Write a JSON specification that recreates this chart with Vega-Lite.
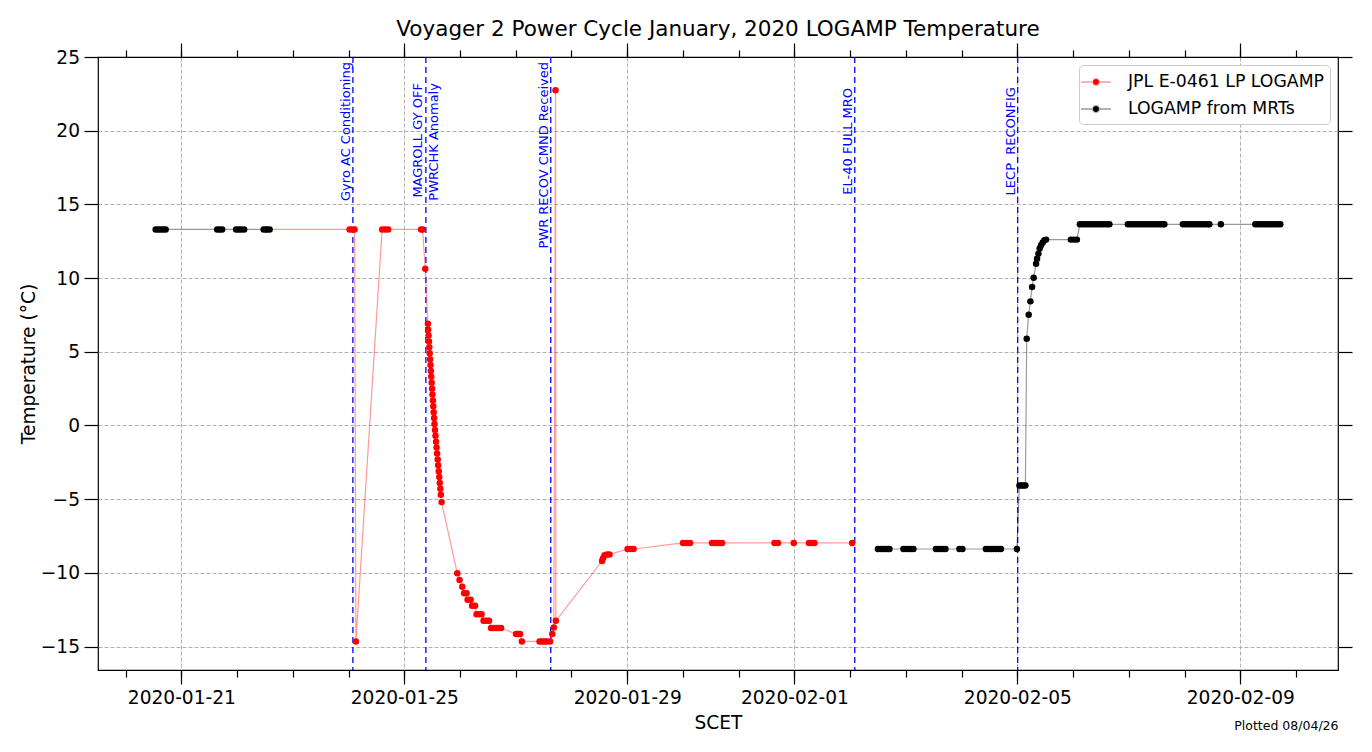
{
  "$schema": "https://vega.github.io/schema/vega-lite/v6.json",
  "autosize": {"type": "none"},
  "width": 1240,
  "height": 613,
  "padding": {"left": 98, "top": 57, "right": 34, "bottom": 82},
  "background": "white",
  "title": {
    "text": "Voyager 2 Power Cycle January, 2020 LOGAMP Temperature",
    "font": "DejaVu Sans",
    "fontSize": 21.5,
    "fontWeight": "normal",
    "color": "black",
    "anchor": "middle",
    "frame": "group",
    "baseline": "alphabetic",
    "offset": -15
  },
  "config": {
    "font": "DejaVu Sans",
    "view": {"stroke": "black", "strokeWidth": 1.2},
    "axis": {
      "domain": false,
      "labelFont": "DejaVu Sans",
      "titleFont": "DejaVu Sans",
      "labelColor": "black",
      "titleColor": "black",
      "tickColor": "black",
      "tickWidth": 1.2,
      "titleFontWeight": "normal",
      "gridColor": "#b0b0b0",
      "gridDash": [4, 2],
      "gridWidth": 1
    }
  },
  "datasets": {
    "temps": [
      {"t": "2020-01-22T12:30", "v": 13.3, "series": "JPL E-0461 LP LOGAMP", "seg": "r"},
      {"t": "2020-01-24T00:27", "v": 13.3, "series": "JPL E-0461 LP LOGAMP", "seg": "r"},
      {"t": "2020-01-24T01:32", "v": 13.3, "series": "JPL E-0461 LP LOGAMP", "seg": "r"},
      {"t": "2020-01-24T02:36", "v": 13.3, "series": "JPL E-0461 LP LOGAMP", "seg": "r"},
      {"t": "2020-01-24T03:10", "v": -14.65, "series": "JPL E-0461 LP LOGAMP", "seg": "r"},
      {"t": "2020-01-24T14:27", "v": 13.3, "series": "JPL E-0461 LP LOGAMP", "seg": "r"},
      {"t": "2020-01-24T15:44", "v": 13.3, "series": "JPL E-0461 LP LOGAMP", "seg": "r"},
      {"t": "2020-01-24T17:02", "v": 13.3, "series": "JPL E-0461 LP LOGAMP", "seg": "r"},
      {"t": "2020-01-25T07:14", "v": 13.3, "series": "JPL E-0461 LP LOGAMP", "seg": "r"},
      {"t": "2020-01-25T07:53", "v": 13.3, "series": "JPL E-0461 LP LOGAMP", "seg": "r"},
      {"t": "2020-01-25T09:02", "v": 10.64, "series": "JPL E-0461 LP LOGAMP", "seg": "r"},
      {"t": "2020-01-25T10:10", "v": 6.9, "series": "JPL E-0461 LP LOGAMP", "seg": "r"},
      {"t": "2020-01-25T10:17", "v": 6.5, "series": "JPL E-0461 LP LOGAMP", "seg": "r"},
      {"t": "2020-01-25T10:28", "v": 6.1, "series": "JPL E-0461 LP LOGAMP", "seg": "r"},
      {"t": "2020-01-25T10:38", "v": 5.7, "series": "JPL E-0461 LP LOGAMP", "seg": "r"},
      {"t": "2020-01-25T10:46", "v": 5.3, "series": "JPL E-0461 LP LOGAMP", "seg": "r"},
      {"t": "2020-01-25T10:56", "v": 4.9, "series": "JPL E-0461 LP LOGAMP", "seg": "r"},
      {"t": "2020-01-25T11:06", "v": 4.5, "series": "JPL E-0461 LP LOGAMP", "seg": "r"},
      {"t": "2020-01-25T11:17", "v": 4.1, "series": "JPL E-0461 LP LOGAMP", "seg": "r"},
      {"t": "2020-01-25T11:27", "v": 3.7, "series": "JPL E-0461 LP LOGAMP", "seg": "r"},
      {"t": "2020-01-25T11:37", "v": 3.3, "series": "JPL E-0461 LP LOGAMP", "seg": "r"},
      {"t": "2020-01-25T11:48", "v": 2.9, "series": "JPL E-0461 LP LOGAMP", "seg": "r"},
      {"t": "2020-01-25T11:58", "v": 2.5, "series": "JPL E-0461 LP LOGAMP", "seg": "r"},
      {"t": "2020-01-25T12:08", "v": 2.1, "series": "JPL E-0461 LP LOGAMP", "seg": "r"},
      {"t": "2020-01-25T12:19", "v": 1.7, "series": "JPL E-0461 LP LOGAMP", "seg": "r"},
      {"t": "2020-01-25T12:29", "v": 1.3, "series": "JPL E-0461 LP LOGAMP", "seg": "r"},
      {"t": "2020-01-25T12:39", "v": 0.9, "series": "JPL E-0461 LP LOGAMP", "seg": "r"},
      {"t": "2020-01-25T12:50", "v": 0.5, "series": "JPL E-0461 LP LOGAMP", "seg": "r"},
      {"t": "2020-01-25T13:00", "v": 0.1, "series": "JPL E-0461 LP LOGAMP", "seg": "r"},
      {"t": "2020-01-25T13:13", "v": -0.3, "series": "JPL E-0461 LP LOGAMP", "seg": "r"},
      {"t": "2020-01-25T13:26", "v": -0.7, "series": "JPL E-0461 LP LOGAMP", "seg": "r"},
      {"t": "2020-01-25T13:41", "v": -1.1, "series": "JPL E-0461 LP LOGAMP", "seg": "r"},
      {"t": "2020-01-25T13:54", "v": -1.5, "series": "JPL E-0461 LP LOGAMP", "seg": "r"},
      {"t": "2020-01-25T14:07", "v": -1.9, "series": "JPL E-0461 LP LOGAMP", "seg": "r"},
      {"t": "2020-01-25T14:23", "v": -2.3, "series": "JPL E-0461 LP LOGAMP", "seg": "r"},
      {"t": "2020-01-25T14:36", "v": -2.7, "series": "JPL E-0461 LP LOGAMP", "seg": "r"},
      {"t": "2020-01-25T14:51", "v": -3.1, "series": "JPL E-0461 LP LOGAMP", "seg": "r"},
      {"t": "2020-01-25T15:04", "v": -3.5, "series": "JPL E-0461 LP LOGAMP", "seg": "r"},
      {"t": "2020-01-25T15:17", "v": -3.9, "series": "JPL E-0461 LP LOGAMP", "seg": "r"},
      {"t": "2020-01-25T15:32", "v": -4.3, "series": "JPL E-0461 LP LOGAMP", "seg": "r"},
      {"t": "2020-01-25T15:45", "v": -4.7, "series": "JPL E-0461 LP LOGAMP", "seg": "r"},
      {"t": "2020-01-25T16:03", "v": -5.2, "series": "JPL E-0461 LP LOGAMP", "seg": "r"},
      {"t": "2020-01-25T22:49", "v": -10.03, "series": "JPL E-0461 LP LOGAMP", "seg": "r"},
      {"t": "2020-01-25T23:48", "v": -10.48, "series": "JPL E-0461 LP LOGAMP", "seg": "r"},
      {"t": "2020-01-26T00:58", "v": -10.94, "series": "JPL E-0461 LP LOGAMP", "seg": "r"},
      {"t": "2020-01-26T01:45", "v": -11.39, "series": "JPL E-0461 LP LOGAMP", "seg": "r"},
      {"t": "2020-01-26T02:49", "v": -11.39, "series": "JPL E-0461 LP LOGAMP", "seg": "r"},
      {"t": "2020-01-26T03:15", "v": -11.82, "series": "JPL E-0461 LP LOGAMP", "seg": "r"},
      {"t": "2020-01-26T04:33", "v": -11.82, "series": "JPL E-0461 LP LOGAMP", "seg": "r"},
      {"t": "2020-01-26T05:11", "v": -12.23, "series": "JPL E-0461 LP LOGAMP", "seg": "r"},
      {"t": "2020-01-26T06:29", "v": -12.23, "series": "JPL E-0461 LP LOGAMP", "seg": "r"},
      {"t": "2020-01-26T07:07", "v": -12.8, "series": "JPL E-0461 LP LOGAMP", "seg": "r"},
      {"t": "2020-01-26T08:12", "v": -12.8, "series": "JPL E-0461 LP LOGAMP", "seg": "r"},
      {"t": "2020-01-26T09:17", "v": -12.8, "series": "JPL E-0461 LP LOGAMP", "seg": "r"},
      {"t": "2020-01-26T10:08", "v": -13.25, "series": "JPL E-0461 LP LOGAMP", "seg": "r"},
      {"t": "2020-01-26T11:13", "v": -13.25, "series": "JPL E-0461 LP LOGAMP", "seg": "r"},
      {"t": "2020-01-26T12:30", "v": -13.25, "series": "JPL E-0461 LP LOGAMP", "seg": "r"},
      {"t": "2020-01-26T13:22", "v": -13.74, "series": "JPL E-0461 LP LOGAMP", "seg": "r"},
      {"t": "2020-01-26T14:27", "v": -13.74, "series": "JPL E-0461 LP LOGAMP", "seg": "r"},
      {"t": "2020-01-26T15:31", "v": -13.74, "series": "JPL E-0461 LP LOGAMP", "seg": "r"},
      {"t": "2020-01-26T16:36", "v": -13.74, "series": "JPL E-0461 LP LOGAMP", "seg": "r"},
      {"t": "2020-01-26T17:40", "v": -13.74, "series": "JPL E-0461 LP LOGAMP", "seg": "r"},
      {"t": "2020-01-27T00:08", "v": -14.15, "series": "JPL E-0461 LP LOGAMP", "seg": "r"},
      {"t": "2020-01-27T00:59", "v": -14.15, "series": "JPL E-0461 LP LOGAMP", "seg": "r"},
      {"t": "2020-01-27T01:51", "v": -14.15, "series": "JPL E-0461 LP LOGAMP", "seg": "r"},
      {"t": "2020-01-27T02:38", "v": -14.65, "series": "JPL E-0461 LP LOGAMP", "seg": "r"},
      {"t": "2020-01-27T10:15", "v": -14.65, "series": "JPL E-0461 LP LOGAMP", "seg": "r"},
      {"t": "2020-01-27T11:19", "v": -14.65, "series": "JPL E-0461 LP LOGAMP", "seg": "r"},
      {"t": "2020-01-27T12:24", "v": -14.65, "series": "JPL E-0461 LP LOGAMP", "seg": "r"},
      {"t": "2020-01-27T13:28", "v": -14.65, "series": "JPL E-0461 LP LOGAMP", "seg": "r"},
      {"t": "2020-01-27T14:46", "v": -14.65, "series": "JPL E-0461 LP LOGAMP", "seg": "r"},
      {"t": "2020-01-27T15:43", "v": -14.15, "series": "JPL E-0461 LP LOGAMP", "seg": "r"},
      {"t": "2020-01-27T16:24", "v": -13.7, "series": "JPL E-0461 LP LOGAMP", "seg": "r"},
      {"t": "2020-01-27T17:08", "v": 22.74, "series": "JPL E-0461 LP LOGAMP", "seg": "r"},
      {"t": "2020-01-27T17:16", "v": -13.25, "series": "JPL E-0461 LP LOGAMP", "seg": "r"},
      {"t": "2020-01-28T13:09", "v": -9.2, "series": "JPL E-0461 LP LOGAMP", "seg": "r"},
      {"t": "2020-01-28T13:35", "v": -9.0, "series": "JPL E-0461 LP LOGAMP", "seg": "r"},
      {"t": "2020-01-28T14:14", "v": -8.8, "series": "JPL E-0461 LP LOGAMP", "seg": "r"},
      {"t": "2020-01-28T15:18", "v": -8.75, "series": "JPL E-0461 LP LOGAMP", "seg": "r"},
      {"t": "2020-01-28T16:23", "v": -8.75, "series": "JPL E-0461 LP LOGAMP", "seg": "r"},
      {"t": "2020-01-29T00:08", "v": -8.38, "series": "JPL E-0461 LP LOGAMP", "seg": "r"},
      {"t": "2020-01-29T01:25", "v": -8.38, "series": "JPL E-0461 LP LOGAMP", "seg": "r"},
      {"t": "2020-01-29T02:43", "v": -8.38, "series": "JPL E-0461 LP LOGAMP", "seg": "r"},
      {"t": "2020-01-30T00:01", "v": -7.97, "series": "JPL E-0461 LP LOGAMP", "seg": "r"},
      {"t": "2020-01-30T01:32", "v": -7.97, "series": "JPL E-0461 LP LOGAMP", "seg": "r"},
      {"t": "2020-01-30T03:02", "v": -7.97, "series": "JPL E-0461 LP LOGAMP", "seg": "r"},
      {"t": "2020-01-30T12:30", "v": -7.97, "series": "JPL E-0461 LP LOGAMP", "seg": "r"},
      {"t": "2020-01-30T13:35", "v": -7.97, "series": "JPL E-0461 LP LOGAMP", "seg": "r"},
      {"t": "2020-01-30T14:39", "v": -7.97, "series": "JPL E-0461 LP LOGAMP", "seg": "r"},
      {"t": "2020-01-30T15:44", "v": -7.97, "series": "JPL E-0461 LP LOGAMP", "seg": "r"},
      {"t": "2020-01-30T16:49", "v": -7.97, "series": "JPL E-0461 LP LOGAMP", "seg": "r"},
      {"t": "2020-01-31T15:25", "v": -7.97, "series": "JPL E-0461 LP LOGAMP", "seg": "r"},
      {"t": "2020-01-31T16:55", "v": -7.97, "series": "JPL E-0461 LP LOGAMP", "seg": "r"},
      {"t": "2020-01-31T23:43", "v": -7.97, "series": "JPL E-0461 LP LOGAMP", "seg": "r"},
      {"t": "2020-02-01T06:16", "v": -7.97, "series": "JPL E-0461 LP LOGAMP", "seg": "r"},
      {"t": "2020-02-01T07:33", "v": -7.97, "series": "JPL E-0461 LP LOGAMP", "seg": "r"},
      {"t": "2020-02-01T08:38", "v": -7.97, "series": "JPL E-0461 LP LOGAMP", "seg": "r"},
      {"t": "2020-02-02T00:52", "v": -7.97, "series": "JPL E-0461 LP LOGAMP", "seg": "r"},
      {"t": "2020-01-20T12:56", "v": 13.3, "series": "LOGAMP from MRTs", "seg": "a"},
      {"t": "2020-01-20T14:01", "v": 13.3, "series": "LOGAMP from MRTs", "seg": "a"},
      {"t": "2020-01-20T15:05", "v": 13.3, "series": "LOGAMP from MRTs", "seg": "a"},
      {"t": "2020-01-20T16:10", "v": 13.3, "series": "LOGAMP from MRTs", "seg": "a"},
      {"t": "2020-01-20T17:14", "v": 13.3, "series": "LOGAMP from MRTs", "seg": "a"},
      {"t": "2020-01-21T15:25", "v": 13.3, "series": "LOGAMP from MRTs", "seg": "a"},
      {"t": "2020-01-21T16:29", "v": 13.3, "series": "LOGAMP from MRTs", "seg": "a"},
      {"t": "2020-01-21T17:34", "v": 13.3, "series": "LOGAMP from MRTs", "seg": "a"},
      {"t": "2020-01-21T23:35", "v": 13.3, "series": "LOGAMP from MRTs", "seg": "a"},
      {"t": "2020-01-22T00:40", "v": 13.3, "series": "LOGAMP from MRTs", "seg": "a"},
      {"t": "2020-01-22T01:45", "v": 13.3, "series": "LOGAMP from MRTs", "seg": "a"},
      {"t": "2020-01-22T03:02", "v": 13.3, "series": "LOGAMP from MRTs", "seg": "a"},
      {"t": "2020-01-22T11:26", "v": 13.3, "series": "LOGAMP from MRTs", "seg": "a"},
      {"t": "2020-01-22T12:43", "v": 13.3, "series": "LOGAMP from MRTs", "seg": "a"},
      {"t": "2020-01-22T14:01", "v": 13.3, "series": "LOGAMP from MRTs", "seg": "a"},
      {"t": "2020-02-02T11:58", "v": -8.38, "series": "LOGAMP from MRTs", "seg": "b"},
      {"t": "2020-02-02T13:03", "v": -8.38, "series": "LOGAMP from MRTs", "seg": "b"},
      {"t": "2020-02-02T14:07", "v": -8.38, "series": "LOGAMP from MRTs", "seg": "b"},
      {"t": "2020-02-02T15:12", "v": -8.38, "series": "LOGAMP from MRTs", "seg": "b"},
      {"t": "2020-02-02T16:16", "v": -8.38, "series": "LOGAMP from MRTs", "seg": "b"},
      {"t": "2020-02-02T16:55", "v": -8.38, "series": "LOGAMP from MRTs", "seg": "b"},
      {"t": "2020-02-02T22:57", "v": -8.38, "series": "LOGAMP from MRTs", "seg": "b"},
      {"t": "2020-02-03T00:01", "v": -8.38, "series": "LOGAMP from MRTs", "seg": "b"},
      {"t": "2020-02-03T01:06", "v": -8.38, "series": "LOGAMP from MRTs", "seg": "b"},
      {"t": "2020-02-03T02:10", "v": -8.38, "series": "LOGAMP from MRTs", "seg": "b"},
      {"t": "2020-02-03T03:15", "v": -8.38, "series": "LOGAMP from MRTs", "seg": "b"},
      {"t": "2020-02-03T12:56", "v": -8.38, "series": "LOGAMP from MRTs", "seg": "b"},
      {"t": "2020-02-03T14:01", "v": -8.38, "series": "LOGAMP from MRTs", "seg": "b"},
      {"t": "2020-02-03T15:05", "v": -8.38, "series": "LOGAMP from MRTs", "seg": "b"},
      {"t": "2020-02-03T16:10", "v": -8.38, "series": "LOGAMP from MRTs", "seg": "b"},
      {"t": "2020-02-03T17:02", "v": -8.38, "series": "LOGAMP from MRTs", "seg": "b"},
      {"t": "2020-02-03T23:03", "v": -8.38, "series": "LOGAMP from MRTs", "seg": "b"},
      {"t": "2020-02-04T00:21", "v": -8.38, "series": "LOGAMP from MRTs", "seg": "b"},
      {"t": "2020-02-04T10:28", "v": -8.38, "series": "LOGAMP from MRTs", "seg": "b"},
      {"t": "2020-02-04T11:32", "v": -8.38, "series": "LOGAMP from MRTs", "seg": "b"},
      {"t": "2020-02-04T12:37", "v": -8.38, "series": "LOGAMP from MRTs", "seg": "b"},
      {"t": "2020-02-04T13:41", "v": -8.38, "series": "LOGAMP from MRTs", "seg": "b"},
      {"t": "2020-02-04T14:46", "v": -8.38, "series": "LOGAMP from MRTs", "seg": "b"},
      {"t": "2020-02-04T15:51", "v": -8.38, "series": "LOGAMP from MRTs", "seg": "b"},
      {"t": "2020-02-04T16:55", "v": -8.38, "series": "LOGAMP from MRTs", "seg": "b"},
      {"t": "2020-02-04T23:49", "v": -8.38, "series": "LOGAMP from MRTs", "seg": "b"},
      {"t": "2020-02-05T00:53", "v": -4.08, "series": "LOGAMP from MRTs", "seg": "b"},
      {"t": "2020-02-05T01:45", "v": -4.08, "series": "LOGAMP from MRTs", "seg": "b"},
      {"t": "2020-02-05T02:36", "v": -4.08, "series": "LOGAMP from MRTs", "seg": "b"},
      {"t": "2020-02-05T03:28", "v": -4.08, "series": "LOGAMP from MRTs", "seg": "b"},
      {"t": "2020-02-05T04:02", "v": 5.89, "series": "LOGAMP from MRTs", "seg": "b"},
      {"t": "2020-02-05T04:53", "v": 7.52, "series": "LOGAMP from MRTs", "seg": "b"},
      {"t": "2020-02-05T05:37", "v": 8.42, "series": "LOGAMP from MRTs", "seg": "b"},
      {"t": "2020-02-05T06:21", "v": 9.4, "series": "LOGAMP from MRTs", "seg": "b"},
      {"t": "2020-02-05T07:02", "v": 10.03, "series": "LOGAMP from MRTs", "seg": "b"},
      {"t": "2020-02-05T08:04", "v": 10.98, "series": "LOGAMP from MRTs", "seg": "b"},
      {"t": "2020-02-05T08:30", "v": 11.32, "series": "LOGAMP from MRTs", "seg": "b"},
      {"t": "2020-02-05T09:04", "v": 11.66, "series": "LOGAMP from MRTs", "seg": "b"},
      {"t": "2020-02-05T09:37", "v": 12.0, "series": "LOGAMP from MRTs", "seg": "b"},
      {"t": "2020-02-05T10:13", "v": 12.23, "series": "LOGAMP from MRTs", "seg": "b"},
      {"t": "2020-02-05T10:55", "v": 12.41, "series": "LOGAMP from MRTs", "seg": "b"},
      {"t": "2020-02-05T11:39", "v": 12.57, "series": "LOGAMP from MRTs", "seg": "b"},
      {"t": "2020-02-05T12:23", "v": 12.61, "series": "LOGAMP from MRTs", "seg": "b"},
      {"t": "2020-02-05T23:03", "v": 12.61, "series": "LOGAMP from MRTs", "seg": "b"},
      {"t": "2020-02-06T00:21", "v": 12.61, "series": "LOGAMP from MRTs", "seg": "b"},
      {"t": "2020-02-06T01:38", "v": 12.61, "series": "LOGAMP from MRTs", "seg": "b"},
      {"t": "2020-02-06T02:56", "v": 13.65, "series": "LOGAMP from MRTs", "seg": "b"},
      {"t": "2020-02-06T04:00", "v": 13.65, "series": "LOGAMP from MRTs", "seg": "b"},
      {"t": "2020-02-06T05:05", "v": 13.65, "series": "LOGAMP from MRTs", "seg": "b"},
      {"t": "2020-02-06T06:09", "v": 13.65, "series": "LOGAMP from MRTs", "seg": "b"},
      {"t": "2020-02-06T07:14", "v": 13.65, "series": "LOGAMP from MRTs", "seg": "b"},
      {"t": "2020-02-06T08:18", "v": 13.65, "series": "LOGAMP from MRTs", "seg": "b"},
      {"t": "2020-02-06T09:23", "v": 13.65, "series": "LOGAMP from MRTs", "seg": "b"},
      {"t": "2020-02-06T10:28", "v": 13.65, "series": "LOGAMP from MRTs", "seg": "b"},
      {"t": "2020-02-06T11:32", "v": 13.65, "series": "LOGAMP from MRTs", "seg": "b"},
      {"t": "2020-02-06T12:37", "v": 13.65, "series": "LOGAMP from MRTs", "seg": "b"},
      {"t": "2020-02-06T13:41", "v": 13.65, "series": "LOGAMP from MRTs", "seg": "b"},
      {"t": "2020-02-06T14:46", "v": 13.65, "series": "LOGAMP from MRTs", "seg": "b"},
      {"t": "2020-02-06T15:38", "v": 13.65, "series": "LOGAMP from MRTs", "seg": "b"},
      {"t": "2020-02-06T23:35", "v": 13.65, "series": "LOGAMP from MRTs", "seg": "b"},
      {"t": "2020-02-07T00:40", "v": 13.65, "series": "LOGAMP from MRTs", "seg": "b"},
      {"t": "2020-02-07T01:45", "v": 13.65, "series": "LOGAMP from MRTs", "seg": "b"},
      {"t": "2020-02-07T02:49", "v": 13.65, "series": "LOGAMP from MRTs", "seg": "b"},
      {"t": "2020-02-07T03:54", "v": 13.65, "series": "LOGAMP from MRTs", "seg": "b"},
      {"t": "2020-02-07T04:58", "v": 13.65, "series": "LOGAMP from MRTs", "seg": "b"},
      {"t": "2020-02-07T06:03", "v": 13.65, "series": "LOGAMP from MRTs", "seg": "b"},
      {"t": "2020-02-07T07:07", "v": 13.65, "series": "LOGAMP from MRTs", "seg": "b"},
      {"t": "2020-02-07T08:12", "v": 13.65, "series": "LOGAMP from MRTs", "seg": "b"},
      {"t": "2020-02-07T09:17", "v": 13.65, "series": "LOGAMP from MRTs", "seg": "b"},
      {"t": "2020-02-07T10:21", "v": 13.65, "series": "LOGAMP from MRTs", "seg": "b"},
      {"t": "2020-02-07T11:26", "v": 13.65, "series": "LOGAMP from MRTs", "seg": "b"},
      {"t": "2020-02-07T12:30", "v": 13.65, "series": "LOGAMP from MRTs", "seg": "b"},
      {"t": "2020-02-07T13:35", "v": 13.65, "series": "LOGAMP from MRTs", "seg": "b"},
      {"t": "2020-02-07T14:39", "v": 13.65, "series": "LOGAMP from MRTs", "seg": "b"},
      {"t": "2020-02-07T15:18", "v": 13.65, "series": "LOGAMP from MRTs", "seg": "b"},
      {"t": "2020-02-07T23:16", "v": 13.65, "series": "LOGAMP from MRTs", "seg": "b"},
      {"t": "2020-02-08T00:21", "v": 13.65, "series": "LOGAMP from MRTs", "seg": "b"},
      {"t": "2020-02-08T01:25", "v": 13.65, "series": "LOGAMP from MRTs", "seg": "b"},
      {"t": "2020-02-08T02:30", "v": 13.65, "series": "LOGAMP from MRTs", "seg": "b"},
      {"t": "2020-02-08T03:34", "v": 13.65, "series": "LOGAMP from MRTs", "seg": "b"},
      {"t": "2020-02-08T04:39", "v": 13.65, "series": "LOGAMP from MRTs", "seg": "b"},
      {"t": "2020-02-08T05:44", "v": 13.65, "series": "LOGAMP from MRTs", "seg": "b"},
      {"t": "2020-02-08T06:48", "v": 13.65, "series": "LOGAMP from MRTs", "seg": "b"},
      {"t": "2020-02-08T07:53", "v": 13.65, "series": "LOGAMP from MRTs", "seg": "b"},
      {"t": "2020-02-08T08:57", "v": 13.65, "series": "LOGAMP from MRTs", "seg": "b"},
      {"t": "2020-02-08T10:02", "v": 13.65, "series": "LOGAMP from MRTs", "seg": "b"},
      {"t": "2020-02-08T10:41", "v": 13.65, "series": "LOGAMP from MRTs", "seg": "b"},
      {"t": "2020-02-08T15:38", "v": 13.65, "series": "LOGAMP from MRTs", "seg": "b"},
      {"t": "2020-02-09T06:29", "v": 13.65, "series": "LOGAMP from MRTs", "seg": "b"},
      {"t": "2020-02-09T07:33", "v": 13.65, "series": "LOGAMP from MRTs", "seg": "b"},
      {"t": "2020-02-09T08:38", "v": 13.65, "series": "LOGAMP from MRTs", "seg": "b"},
      {"t": "2020-02-09T09:42", "v": 13.65, "series": "LOGAMP from MRTs", "seg": "b"},
      {"t": "2020-02-09T10:47", "v": 13.65, "series": "LOGAMP from MRTs", "seg": "b"},
      {"t": "2020-02-09T11:52", "v": 13.65, "series": "LOGAMP from MRTs", "seg": "b"},
      {"t": "2020-02-09T12:56", "v": 13.65, "series": "LOGAMP from MRTs", "seg": "b"},
      {"t": "2020-02-09T14:01", "v": 13.65, "series": "LOGAMP from MRTs", "seg": "b"},
      {"t": "2020-02-09T15:05", "v": 13.65, "series": "LOGAMP from MRTs", "seg": "b"},
      {"t": "2020-02-09T16:10", "v": 13.65, "series": "LOGAMP from MRTs", "seg": "b"},
      {"t": "2020-02-09T17:14", "v": 13.65, "series": "LOGAMP from MRTs", "seg": "b"}
    ],
    "events": [
      {"t": "2020-01-24T01:52", "v": 24.66, "label": "Gyro AC Conditioning", "lines": 1},
      {"t": "2020-01-25T09:18", "v": 23.23, "label": "MAGROLL GY OFF\nPWRCHK Anomaly", "lines": 2},
      {"t": "2020-01-27T15:04", "v": 24.66, "label": "PWR RECOV CMND Received", "lines": 1},
      {"t": "2020-02-02T01:59", "v": 22.9, "label": "EL-40 FULL MRO", "lines": 1},
      {"t": "2020-02-05T00:09", "v": 22.96, "label": "LECP\u00a0\u00a0RECONFIG", "lines": 1}
    ]
  },
  "resolve": {"axis": {"x": "independent", "y": "independent"}},
  "layer": [
    {
      "data": {"name": "events"},
      "mark": {"type": "rule", "color": "#0000ff", "strokeDash": [6, 4], "strokeWidth": 1.3},
      "encoding": {
        "x": {
          "field": "t", "type": "temporal",
          "scale": {"domain": ["2020-01-19T12:06", "2020-02-10T18:05"]},
          "axis": {
            "orient": "bottom", "grid": false, "labels": false, "ticks": true, "tickSize": 7, "title": null,
            "values": [
              {"year": 2020, "month": 1, "date": 20}, {"year": 2020, "month": 1, "date": 21},
              {"year": 2020, "month": 1, "date": 22}, {"year": 2020, "month": 1, "date": 23},
              {"year": 2020, "month": 1, "date": 24}, {"year": 2020, "month": 1, "date": 25},
              {"year": 2020, "month": 1, "date": 26}, {"year": 2020, "month": 1, "date": 27},
              {"year": 2020, "month": 1, "date": 28}, {"year": 2020, "month": 1, "date": 29},
              {"year": 2020, "month": 1, "date": 30}, {"year": 2020, "month": 1, "date": 31},
              {"year": 2020, "month": 2, "date": 1}, {"year": 2020, "month": 2, "date": 2},
              {"year": 2020, "month": 2, "date": 3}, {"year": 2020, "month": 2, "date": 4},
              {"year": 2020, "month": 2, "date": 5}, {"year": 2020, "month": 2, "date": 6},
              {"year": 2020, "month": 2, "date": 7}, {"year": 2020, "month": 2, "date": 8},
              {"year": 2020, "month": 2, "date": 9}, {"year": 2020, "month": 2, "date": 10}
            ]
          }
        }
      }
    },
    {
      "data": {"name": "events"},
      "transform": [{"filter": {"field": "lines", "equal": 1}}],
      "mark": {"type": "text", "angle": 270, "align": "right", "baseline": "bottom", "color": "#0000ff", "fontSize": 13, "font": "DejaVu Sans"},
      "encoding": {
        "x": {
          "field": "t", "type": "temporal",
          "axis": {
            "orient": "top", "grid": false, "labels": false, "ticks": true, "tickSize": 7, "title": null,
            "values": [
              {"year": 2020, "month": 1, "date": 20}, {"year": 2020, "month": 1, "date": 21},
              {"year": 2020, "month": 1, "date": 22}, {"year": 2020, "month": 1, "date": 23},
              {"year": 2020, "month": 1, "date": 24}, {"year": 2020, "month": 1, "date": 25},
              {"year": 2020, "month": 1, "date": 26}, {"year": 2020, "month": 1, "date": 27},
              {"year": 2020, "month": 1, "date": 28}, {"year": 2020, "month": 1, "date": 29},
              {"year": 2020, "month": 1, "date": 30}, {"year": 2020, "month": 1, "date": 31},
              {"year": 2020, "month": 2, "date": 1}, {"year": 2020, "month": 2, "date": 2},
              {"year": 2020, "month": 2, "date": 3}, {"year": 2020, "month": 2, "date": 4},
              {"year": 2020, "month": 2, "date": 5}, {"year": 2020, "month": 2, "date": 6},
              {"year": 2020, "month": 2, "date": 7}, {"year": 2020, "month": 2, "date": 8},
              {"year": 2020, "month": 2, "date": 9}, {"year": 2020, "month": 2, "date": 10}
            ]
          }
        },
        "y": {
          "field": "v", "type": "quantitative",
          "axis": {"orient": "right", "grid": false, "labels": false, "tickSize": 14, "title": null, "values": [-15, -10, -5, 0, 5, 10, 15, 20, 25]}
        },
        "text": {"field": "label", "type": "nominal"}
      }
    },
    {
      "data": {"name": "events"},
      "transform": [{"filter": {"field": "lines", "equal": 2}}],
      "mark": {"type": "text", "angle": 270, "align": "right", "baseline": "middle", "dy": -7.5, "lineBreak": "\n", "lineHeight": 16, "color": "#0000ff", "fontSize": 13, "font": "DejaVu Sans"},
      "encoding": {
        "x": {
          "field": "t", "type": "temporal",
          "axis": {
            "orient": "bottom", "grid": false, "labels": false, "ticks": false,
            "title": "Plotted 08/04/26", "titleFontSize": 12.5, "titleX": 1240, "titleY": 59,
            "titleAlign": "right", "titleAnchor": "end", "titleBaseline": "alphabetic"
          }
        },
        "y": {"field": "v", "type": "quantitative", "axis": null},
        "text": {"field": "label", "type": "nominal"}
      }
    },
    {
      "data": {"name": "temps"},
      "mark": {"type": "line", "strokeWidth": 1.2, "strokeOpacity": 0.4},
      "encoding": {
        "x": {
          "field": "t", "type": "temporal",
          "axis": {
            "orient": "top", "grid": false, "labels": false, "ticks": true, "tickSize": 14, "title": null,
            "values": [
              {"year": 2020, "month": 1, "date": 21}, {"year": 2020, "month": 1, "date": 25},
              {"year": 2020, "month": 1, "date": 29}, {"year": 2020, "month": 2, "date": 1},
              {"year": 2020, "month": 2, "date": 5}, {"year": 2020, "month": 2, "date": 9}
            ]
          }
        },
        "y": {"field": "v", "type": "quantitative", "axis": null},
        "stroke": {
          "field": "series", "type": "nominal",
          "scale": {"domain": ["JPL E-0461 LP LOGAMP", "LOGAMP from MRTs"], "range": ["#ff0000", "#000000"]},
          "legend": {
            "title": null,
            "orient": "top-right",
            "offset": 8,
            "padding": 6,
            "rowPadding": 7,
            "fillColor": "white",
            "strokeColor": "#cccccc",
            "cornerRadius": 4,
            "labelFont": "DejaVu Sans",
            "labelFontSize": 17.3,
            "labelColor": "black",
            "labelOffset": 21,
            "labelLimit": 400,
            "symbolType": "M-1.5,0H1.5M0.3,0A0.3,0.3,0,1,1,-0.3,0A0.3,0.3,0,1,1,0.3,0Z",
            "symbolSize": 400,
            "symbolStrokeWidth": 2,
            "labelExpr": "datum.label == 'JPL E-0461 LP LOGAMP' ? '\u00a0' + datum.label : datum.label",
            "encode": {
              "symbols": {
                "update": {
                  "fill": {"scale": "color", "field": "value"},
                  "fillOpacity": {"value": 1},
                  "stroke": {"scale": "color", "field": "value"},
                  "strokeOpacity": {"value": 0.3},
                  "opacity": {"value": 1},
                  "strokeWidth": {"value": 2}
                }
              }
            }
          }
        },
        "detail": {"field": "seg", "type": "nominal"}
      }
    },
    {
      "data": {"name": "temps"},
      "mark": {"type": "point", "filled": true, "size": 42, "opacity": 1, "strokeWidth": 0},
      "encoding": {
        "x": {
          "field": "t", "type": "temporal",
          "axis": {
            "orient": "bottom", "grid": true, "ticks": true, "tickSize": 14,
            "labelFontSize": 18.6, "labelPadding": 19, "labelBaseline": "alphabetic", "format": "%Y-%m-%d",
            "title": "SCET", "titleFontSize": 18.6, "titleX": 620, "titleY": 58, "titleBaseline": "alphabetic",
            "values": [
              {"year": 2020, "month": 1, "date": 21}, {"year": 2020, "month": 1, "date": 25},
              {"year": 2020, "month": 1, "date": 29}, {"year": 2020, "month": 2, "date": 1},
              {"year": 2020, "month": 2, "date": 5}, {"year": 2020, "month": 2, "date": 9}
            ]
          }
        },
        "y": {
          "field": "v", "type": "quantitative",
          "scale": {"domain": [-16.59, 25], "nice": false, "zero": false},
          "axis": {
            "orient": "left", "grid": true, "ticks": true, "tickSize": 14,
            "gridOpacity": {"condition": {"test": "datum.value >= 25", "value": 0}, "value": 1},
            "labelFontSize": 18.6, "labelPadding": 4.5,
            "values": [-15, -10, -5, 0, 5, 10, 15, 20, 25],
            "title": "Temperature (°C)", "titleFontSize": 18.6, "titleX": -64, "titleY": 306.5,
            "titleAngle": 270, "titleAlign": "center", "titleBaseline": "alphabetic"
          }
        },
        "color": {
          "field": "series", "type": "nominal",
          "scale": {"domain": ["JPL E-0461 LP LOGAMP", "LOGAMP from MRTs"], "range": ["#ff0000", "#000000"]},
          "legend": {
            "title": null,
            "orient": "top-right",
            "offset": 8,
            "padding": 6,
            "rowPadding": 7,
            "fillColor": "white",
            "strokeColor": "#cccccc",
            "cornerRadius": 4,
            "labelFont": "DejaVu Sans",
            "labelFontSize": 17.3,
            "labelColor": "black",
            "labelOffset": 21,
            "labelLimit": 400,
            "symbolType": "M-1.5,0H1.5M0.3,0A0.3,0.3,0,1,1,-0.3,0A0.3,0.3,0,1,1,0.3,0Z",
            "symbolSize": 400,
            "symbolStrokeWidth": 2,
            "labelExpr": "datum.label == 'JPL E-0461 LP LOGAMP' ? '\u00a0' + datum.label : datum.label",
            "encode": {
              "symbols": {
                "update": {
                  "fill": {"scale": "color", "field": "value"},
                  "fillOpacity": {"value": 1},
                  "stroke": {"scale": "color", "field": "value"},
                  "strokeOpacity": {"value": 0.3},
                  "opacity": {"value": 1},
                  "strokeWidth": {"value": 2}
                }
              }
            }
          }
        }
      }
    }
  ]
}
